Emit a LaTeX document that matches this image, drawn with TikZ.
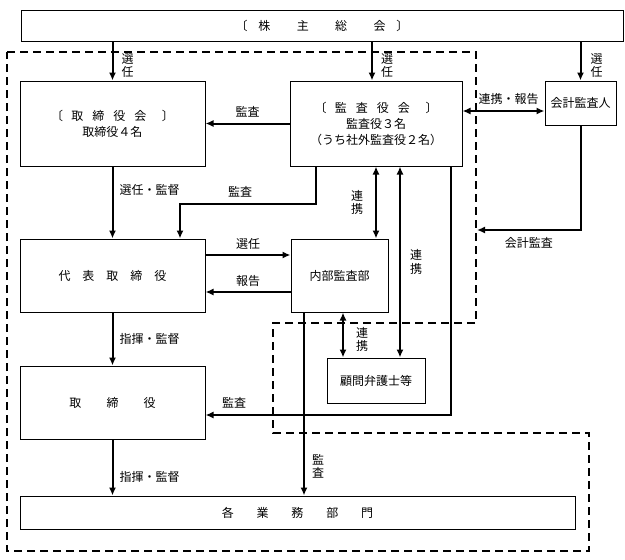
\documentclass[tikz,border=0pt]{standalone}
\usepackage{fontspec}
\setmainfont{Noto Sans CJK JP}
\usetikzlibrary{arrows.meta}

\tikzset{
	box/.style={draw, line width=1pt, inner sep=0pt, align=center, font=\fontsize{12}{16}\selectfont},
	arr/.style={line width=2pt, -{Latex[length=8pt,width=7pt]}},
	darr/.style={line width=2pt, {Latex[length=8pt,width=7pt]}-{Latex[length=8pt,width=7pt]}},
	lbl/.style={inner sep=1pt, font=\fontsize{12}{13.5}\selectfont},
	vlbl/.style={lbl, align=center},
	kansaarea/.style={line width=1.6pt, dash pattern=on 8pt off 5pt}
}

\begin{document}
\begin{tikzpicture}[x=1pt,y=-1pt]
	\useasboundingbox (0,0) rectangle (625,560);
	\draw[kansaarea] (7,52) -- (476,52) -- (476,323) -- (273,323) -- (273,433) -- (589,433) -- (589,551) -- (7,551) -- cycle;

	\node[box, minimum width=602pt, minimum height=31pt] (kabunushi) at (322,25.5) {〔\hspace{0.9em}株\hspace{2.2em}主\hspace{2.2em}総\hspace{2.2em}会\hspace{0.9em}〕};
	\node[box, minimum width=185pt, minimum height=85pt] (torikai) at (112.5,123.5) {〔\hspace{0.7em}取\hspace{0.75em}締\hspace{0.75em}役\hspace{0.75em}会\hspace{1.3em}〕\\取締役４名};
	\node[box, minimum width=172pt, minimum height=85pt] (kansakai) at (376,123.5) {〔\hspace{0.7em}監\hspace{0.75em}査\hspace{0.75em}役\hspace{0.75em}会\hspace{1.3em}〕\\監査役３名\\（うち社外監査役２名）};
	\node[box, minimum width=71pt, minimum height=44pt] (kaikei) at (580.5,103) {会計監査人};
	\node[box, minimum width=185pt, minimum height=73pt] (daihyo) at (112.5,275.5) {代\hspace{1em}表\hspace{1em}取\hspace{1em}締\hspace{1em}役};
	\node[box, minimum width=97pt, minimum height=73pt] (naibu) at (339.5,275.5) {内部監査部};
	\node[box, minimum width=98pt, minimum height=45pt] (komon) at (376,380.5) {顧問弁護士等};
	\node[box, minimum width=185pt, minimum height=73pt] (torishimari) at (112.5,402.5) {取\hspace{2.1em}締\hspace{2.1em}役};
	\node[box, minimum width=555pt, minimum height=33pt] (gyomu) at (297.5,512.5) {各\hspace{1.9em}業\hspace{1.9em}務\hspace{1.9em}部\hspace{1.9em}門};

	\coordinate (k1) at ([xshift=-4pt]kansakai.north);
	\coordinate (k2) at ([xshift=-60pt]kansakai.south);
	\coordinate (k4) at ([xshift=24pt]kansakai.south);
	\coordinate (k5) at ([xshift=75pt]kansakai.south);
	\coordinate (r1) at ([yshift=12.5pt]kansakai.east);
	\coordinate (d1) at ([xshift=67.5pt]daihyo.north);
	\coordinate (d2) at ([yshift=20.5pt]daihyo.east);
	\coordinate (n1) at ([yshift=-16.5pt]naibu.west);
	\coordinate (n2) at ([xshift=3.5pt]naibu.south);
	\coordinate (n3) at ([xshift=-35.5pt]naibu.south);
	\coordinate (t1) at ([yshift=-12.5pt]torishimari.east);
	\coordinate (auditend) at (477,230);

	% from the shareholders
	\draw[arr] (kabunushi.south -| torikai.north) -- (torikai.north) node[vlbl, pos=0.62, right=7pt] {選\\任};
	\draw[arr] (kabunushi.south -| k1) -- (k1) node[vlbl, pos=0.62, right=7pt] {選\\任};
	\draw[arr] (kabunushi.south -| kaikei.north) -- (kaikei.north) node[vlbl, pos=0.62, right=8pt] {選\\任};

	% board of auditors
	\draw[arr] (kansakai.west) -- (torikai.east) node[lbl, midway, above=4pt] {監査};
	\draw[darr] (r1) -- (r1 -| kaikei.west) node[lbl, midway, above=4pt, xshift=5pt] {連携・報告};
	\draw[arr] (kaikei.south) |- (auditend) node[lbl, pos=0.75, below=5pt] {会計監査};
	\draw[arr] (k2) -- ++(0,37) -| (d1);
	\node[lbl] (lkansa) at (240,192) {監査};
	\draw[darr] (kansakai.south) -- (kansakai.south |- naibu.north) node[vlbl, midway, left=11pt] {連\\携};
	\draw[darr] (k4) -- (k4 |- komon.north) node[vlbl, midway, right=8pt] {連\\携};
	\draw[arr] (k5) |- (t1);
	\node[lbl] (lkansa2) at (234,403) {監査};

	% directors
	\draw[arr] (torikai.south) -- (daihyo.north) node[lbl, pos=0.33, right=5pt] {選任・監督};
	\draw[arr] (d2) -- (d2 -| naibu.west) node[lbl, midway, above=4pt] {選任};
	\draw[arr] (n1) -- (n1 -| daihyo.east) node[lbl, midway, above=3pt] {報告};
	\draw[arr] (daihyo.south) -- (torishimari.north) node[lbl, midway, right=5pt] {指揮・監督};
	\draw[arr] (torishimari.south) -- (torishimari.south |- gyomu.north) node[lbl, pos=0.67, right=5pt] {指揮・監督};

	% internal audit
	\draw[darr] (n2) -- (n2 |- komon.north) node[vlbl, pos=0.6, right=11pt] {連\\携};
	\draw[arr] (n3) -- (n3 |- gyomu.north) node[vlbl, pos=0.84, right=6pt] {監\\査};
\end{tikzpicture}
\end{document}
